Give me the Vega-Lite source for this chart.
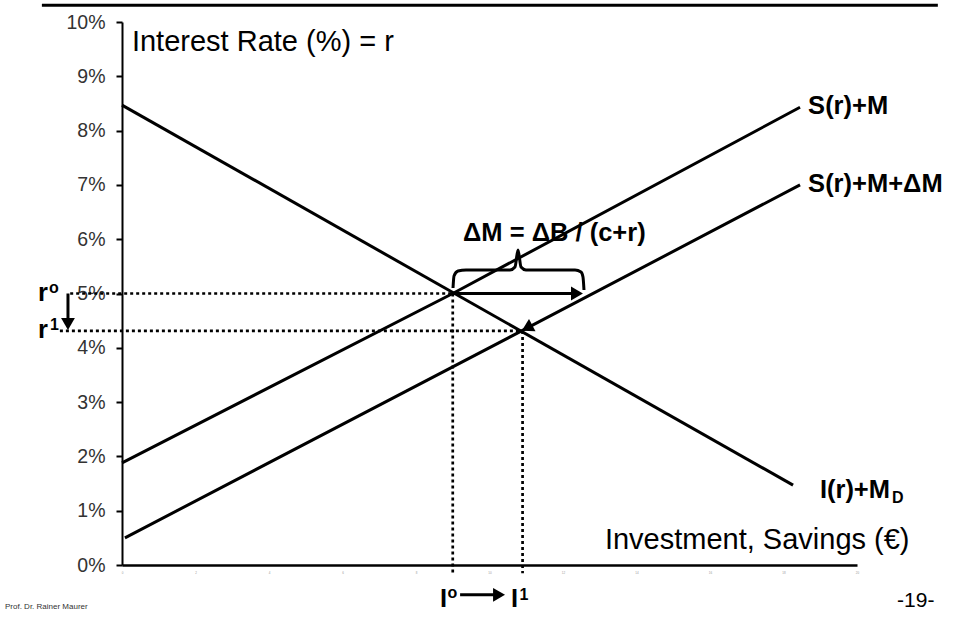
{
  "$schema": "https://vega.github.io/schema/vega-lite/v6.json",
  "width": 735,
  "height": 543,
  "autosize": {"type": "none"},
  "padding": {"left": 122, "top": 22, "right": 96, "bottom": 55},
  "background": "white",
  "config": {
    "font": "Liberation Sans",
    "view": {"stroke": null},
    "axis": {"grid": false, "title": null}
  },
  "datasets": {
    "curves": [
      {"series": "S(r)+M", "x": 0, "r": 1.88},
      {"series": "S(r)+M", "x": 9, "r": 5.0},
      {"series": "S(r)+M", "x": 18.45, "r": 8.43},
      {"series": "S(r)+M+ΔM", "x": 0.08, "r": 0.5},
      {"series": "S(r)+M+ΔM", "x": 10.9, "r": 4.32},
      {"series": "S(r)+M+ΔM", "x": 18.45, "r": 7.0},
      {"series": "I(r)+MD", "x": 0, "r": 8.47},
      {"series": "I(r)+MD", "x": 18.26, "r": 1.47}
    ],
    "dotted": [
      {"guide": "r0", "x": -1.41, "x2": 9, "r": 5.0, "r2": 5.0},
      {"guide": "r1", "x": -1.69, "x2": 10.9, "r": 4.31, "r2": 4.31},
      {"guide": "I0", "x": 9, "x2": 9, "r": 5.0, "r2": -0.15},
      {"guide": "I1", "x": 10.9, "x2": 10.9, "r": 4.31, "r2": -0.15}
    ],
    "shafts": [
      {"arrow": "dM", "x": 9, "x2": 12.3, "r": 5.0, "r2": 5.0},
      {"arrow": "dr", "x": -1.47, "x2": -1.47, "r": 5.0, "r2": 4.5},
      {"arrow": "dI", "x": 9.2, "x2": 10.15, "r": -0.55, "r2": -0.55}
    ],
    "heads": [
      {"arrow": "dM", "x": 12.38, "r": 5.0, "angle": 90},
      {"arrow": "dr", "x": -1.47, "r": 4.44, "angle": 180},
      {"arrow": "dI", "x": 10.26, "r": -0.55, "angle": 90},
      {"arrow": "I1", "x": 11.02, "r": 4.367, "angle": 242}
    ],
    "brace": [
      {"x": 9.007, "r": 5.101},
      {"x": 9.034, "r": 5.322},
      {"x": 9.143, "r": 5.414},
      {"x": 9.361, "r": 5.433},
      {"x": 10.558, "r": 5.433},
      {"x": 10.694, "r": 5.488},
      {"x": 10.776, "r": 5.801},
      {"x": 10.857, "r": 5.488},
      {"x": 10.993, "r": 5.433},
      {"x": 12.327, "r": 5.433},
      {"x": 12.49, "r": 5.396},
      {"x": 12.544, "r": 5.304},
      {"x": 12.571, "r": 5.064}
    ],
    "header": [
      {"x": -2.18, "x2": 22.2, "r": 10.31}
    ],
    "regularText": [
      {"label": "Interest Rate (%) = r", "x": 0.27, "r": 9.466},
      {"label": "Investment, Savings (€)", "x": 13.14, "r": 0.295}
    ],
    "boldText": [
      {"label": "S(r)+M", "x": 18.67, "r": 8.306},
      {"label": "S(r)+M+ΔM", "x": 18.67, "r": 6.875},
      {"label": "I(r)+M", "x": 18.99, "r": 1.234},
      {"label": "ΔM = ΔB / (c+r)", "x": 9.28, "r": 5.967},
      {"label": "r", "x": -2.286, "r": 4.862},
      {"label": "r", "x": -2.286, "r": 4.18},
      {"label": "I", "x": 8.653, "r": -0.773},
      {"label": "I", "x": 10.585, "r": -0.773}
    ],
    "smallBold": [
      {"label": "o", "x": -1.986, "r": 5.009},
      {"label": "1", "x": -1.96, "r": 4.328},
      {"label": "o", "x": 8.857, "r": -0.608},
      {"label": "1", "x": 10.816, "r": -0.645},
      {"label": "D", "x": 20.95, "r": 1.15}
    ],
    "footerSmall": [
      {"label": "Prof. Dr. Rainer Maurer", "x": -3.184, "r": -0.81}
    ],
    "pageNo": [
      {"label": "-19-", "x": 21.09, "r": -0.773}
    ]
  },
  "layer": [
    {
      "data": {"name": "header"},
      "mark": {"type": "rule", "color": "black", "strokeWidth": 3},
      "encoding": {
        "x": {"field": "x", "type": "quantitative", "scale": {"domain": [0, 20], "nice": false, "zero": false},
          "axis": {"values": [0,1,2,3,4,5,6,7,8,9,10,11,12,13,14,15,16,17,18,19,20], "labelFontSize": 3, "labelColor": "#999999", "ticks": false, "labelPadding": 6, "domainColor": "black", "domainWidth": 2.5, "labelFlush": false, "labelOverlap": false, "labelBound": false}},
        "x2": {"field": "x2"},
        "y": {"field": "r", "type": "quantitative", "scale": {"domain": [0, 10], "nice": false, "zero": false},
          "axis": {"values": [0,1,2,3,4,5,6,7,8,9,10], "labelExpr": "datum.value + '%'", "labelFontSize": 19.5, "labelColor": "#333333", "tickSize": 6, "tickWidth": 2, "tickColor": "black", "domainColor": "black", "domainWidth": 2, "labelPadding": 11, "labelOverlap": false}}
      }
    },
    {
      "data": {"name": "regularText"},
      "mark": {"type": "text", "font": "Liberation Sans", "fontSize": 29, "align": "left", "baseline": "alphabetic", "color": "black"},
      "encoding": {
        "x": {"field": "x", "type": "quantitative"},
        "y": {"field": "r", "type": "quantitative"},
        "text": {"field": "label"}
      }
    },
    {
      "data": {"name": "dotted"},
      "mark": {"type": "rule", "color": "black", "strokeWidth": 2.7, "strokeDash": [3, 3]},
      "encoding": {
        "x": {"field": "x", "type": "quantitative"},
        "x2": {"field": "x2"},
        "y": {"field": "r", "type": "quantitative"},
        "y2": {"field": "r2"}
      }
    },
    {
      "data": {"name": "curves"},
      "mark": {"type": "line", "color": "black", "strokeWidth": 3},
      "encoding": {
        "x": {"field": "x", "type": "quantitative"},
        "y": {"field": "r", "type": "quantitative"},
        "detail": {"field": "series"}
      }
    },
    {
      "data": {"name": "brace"},
      "mark": {"type": "line", "color": "black", "strokeWidth": 3, "interpolate": "monotone"},
      "encoding": {
        "x": {"field": "x", "type": "quantitative"},
        "y": {"field": "r", "type": "quantitative"}
      }
    },
    {
      "data": {"name": "shafts"},
      "mark": {"type": "rule", "color": "black", "strokeWidth": 3},
      "encoding": {
        "x": {"field": "x", "type": "quantitative"},
        "x2": {"field": "x2"},
        "y": {"field": "r", "type": "quantitative"},
        "y2": {"field": "r2"}
      }
    },
    {
      "data": {"name": "heads"},
      "mark": {"type": "point", "shape": "triangle-up", "filled": true, "color": "black", "opacity": 1, "size": 190},
      "encoding": {
        "x": {"field": "x", "type": "quantitative"},
        "y": {"field": "r", "type": "quantitative"},
        "angle": {"field": "angle", "type": "quantitative", "scale": null}
      }
    },
    {
      "data": {"name": "boldText"},
      "mark": {"type": "text", "font": "Liberation Sans", "fontSize": 25.5, "fontWeight": "bold", "align": "left", "baseline": "alphabetic", "color": "black"},
      "encoding": {
        "x": {"field": "x", "type": "quantitative"},
        "y": {"field": "r", "type": "quantitative"},
        "text": {"field": "label"}
      }
    },
    {
      "data": {"name": "smallBold"},
      "mark": {"type": "text", "font": "Liberation Sans", "fontSize": 16, "fontWeight": "bold", "align": "left", "baseline": "alphabetic", "color": "black"},
      "encoding": {
        "x": {"field": "x", "type": "quantitative"},
        "y": {"field": "r", "type": "quantitative"},
        "text": {"field": "label"}
      }
    },
    {
      "data": {"name": "footerSmall"},
      "mark": {"type": "text", "font": "Liberation Sans", "fontSize": 8, "align": "left", "baseline": "alphabetic", "color": "#333333"},
      "encoding": {
        "x": {"field": "x", "type": "quantitative"},
        "y": {"field": "r", "type": "quantitative"},
        "text": {"field": "label"}
      }
    },
    {
      "data": {"name": "pageNo"},
      "mark": {"type": "text", "font": "Liberation Sans", "fontSize": 21, "align": "left", "baseline": "alphabetic", "color": "black"},
      "encoding": {
        "x": {"field": "x", "type": "quantitative"},
        "y": {"field": "r", "type": "quantitative"},
        "text": {"field": "label"}
      }
    }
  ]
}
